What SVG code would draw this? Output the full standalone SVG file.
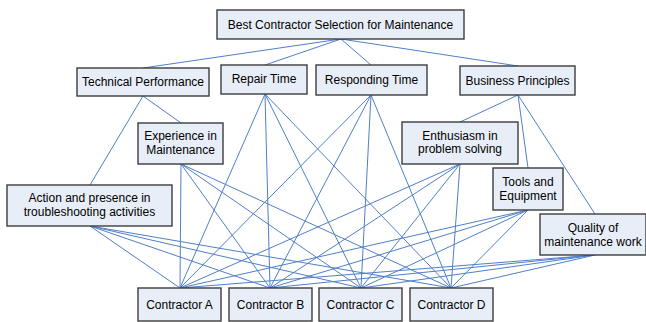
<svg xmlns="http://www.w3.org/2000/svg" width="646" height="322" viewBox="0 0 646 322">
<style>
.box{fill:#E8EEF7;stroke:#3C3C3C;stroke-width:1.4}
.t{font-family:"Liberation Sans",Arial,sans-serif;font-size:12px;fill:#000;text-anchor:middle}
.c line{stroke:#4F7FC8;stroke-width:1;fill:none}
</style>
<rect width="646" height="322" fill="#fff"/>
<g class="c" id="connectors">
<line x1="341" y1="39" x2="143" y2="68"/>
<line x1="341" y1="39" x2="265" y2="65"/>
<line x1="341" y1="39" x2="371" y2="65"/>
<line x1="341" y1="39" x2="518" y2="66"/>
<line x1="143" y1="96" x2="181" y2="123"/>
<line x1="143" y1="96" x2="90" y2="185"/>
<line x1="518" y1="95" x2="460" y2="122"/>
<line x1="518" y1="95" x2="528" y2="168"/>
<line x1="518" y1="95" x2="595" y2="214"/>
<line x1="265" y1="94" x2="180" y2="288"/><line x1="265" y1="94" x2="270" y2="288"/><line x1="265" y1="94" x2="361" y2="288"/><line x1="265" y1="94" x2="451" y2="288"/>
<line x1="371" y1="95" x2="180" y2="288"/><line x1="371" y1="95" x2="270" y2="288"/><line x1="371" y1="95" x2="361" y2="288"/><line x1="371" y1="95" x2="451" y2="288"/>
<line x1="181" y1="164" x2="180" y2="288"/><line x1="181" y1="164" x2="270" y2="288"/><line x1="181" y1="164" x2="361" y2="288"/><line x1="181" y1="164" x2="451" y2="288"/>
<line x1="460" y1="164" x2="180" y2="288"/><line x1="460" y1="164" x2="270" y2="288"/><line x1="460" y1="164" x2="361" y2="288"/><line x1="460" y1="164" x2="451" y2="288"/>
<line x1="90" y1="226" x2="180" y2="288"/><line x1="90" y1="226" x2="270" y2="288"/><line x1="90" y1="226" x2="361" y2="288"/><line x1="90" y1="226" x2="451" y2="288"/>
<line x1="528" y1="210" x2="180" y2="288"/><line x1="528" y1="210" x2="270" y2="288"/><line x1="528" y1="210" x2="361" y2="288"/><line x1="528" y1="210" x2="451" y2="288"/>
<line x1="595" y1="255" x2="180" y2="288"/><line x1="595" y1="255" x2="270" y2="288"/><line x1="595" y1="255" x2="361" y2="288"/><line x1="595" y1="255" x2="451" y2="288"/>
</g>
<g id="goal"><rect class="box" x="217" y="10" width="247" height="29"/><text class="t" x="340.5" y="29">Best Contractor Selection for Maintenance</text></g>
<g id="technical"><rect class="box" x="77" y="68" width="132" height="28"/><text class="t" x="143" y="86">Technical Performance</text></g>
<g id="repair"><rect class="box" x="221" y="65" width="86" height="29"/><text class="t" x="264" y="83">Repair Time</text></g>
<g id="responding"><rect class="box" x="316" y="65" width="111" height="30"/><text class="t" x="371.5" y="84">Responding Time</text></g>
<g id="business"><rect class="box" x="460" y="66" width="115" height="29"/><text class="t" x="517.5" y="85">Business Principles</text></g>
<g id="experience"><rect class="box" x="138" y="123" width="85" height="41"/><text class="t" x="180.5" y="140">Experience in</text><text class="t" x="180.5" y="154">Maintenance</text></g>
<g id="enthusiasm"><rect class="box" x="402" y="122" width="116" height="42"/><text class="t" x="460" y="140">Enthusiasm in</text><text class="t" x="460" y="153">problem solving</text></g>
<g id="action"><rect class="box" x="7" y="185" width="165" height="41"/><text class="t" x="89.5" y="202">Action and presence in</text><text class="t" x="89.5" y="216">troubleshooting activities</text></g>
<g id="tools"><rect class="box" x="493" y="168" width="70" height="42"/><text class="t" x="528" y="186">Tools and</text><text class="t" x="528" y="200">Equipment</text></g>
<g id="quality"><rect class="box" x="540" y="214" width="106" height="41"/><text class="t" x="593" y="232">Quality of</text><text class="t" x="593" y="246">maintenance work</text></g>
<g id="contractorA"><rect class="box" x="138" y="288" width="83" height="33"/><text class="t" x="179.5" y="309">Contractor A</text></g>
<g id="contractorB"><rect class="box" x="229" y="288" width="83" height="33"/><text class="t" x="270.5" y="309">Contractor B</text></g>
<g id="contractorC"><rect class="box" x="319" y="288" width="83" height="33"/><text class="t" x="360.5" y="309">Contractor C</text></g>
<g id="contractorD"><rect class="box" x="410" y="288" width="83" height="33"/><text class="t" x="451.5" y="309">Contractor D</text></g>
</svg>
